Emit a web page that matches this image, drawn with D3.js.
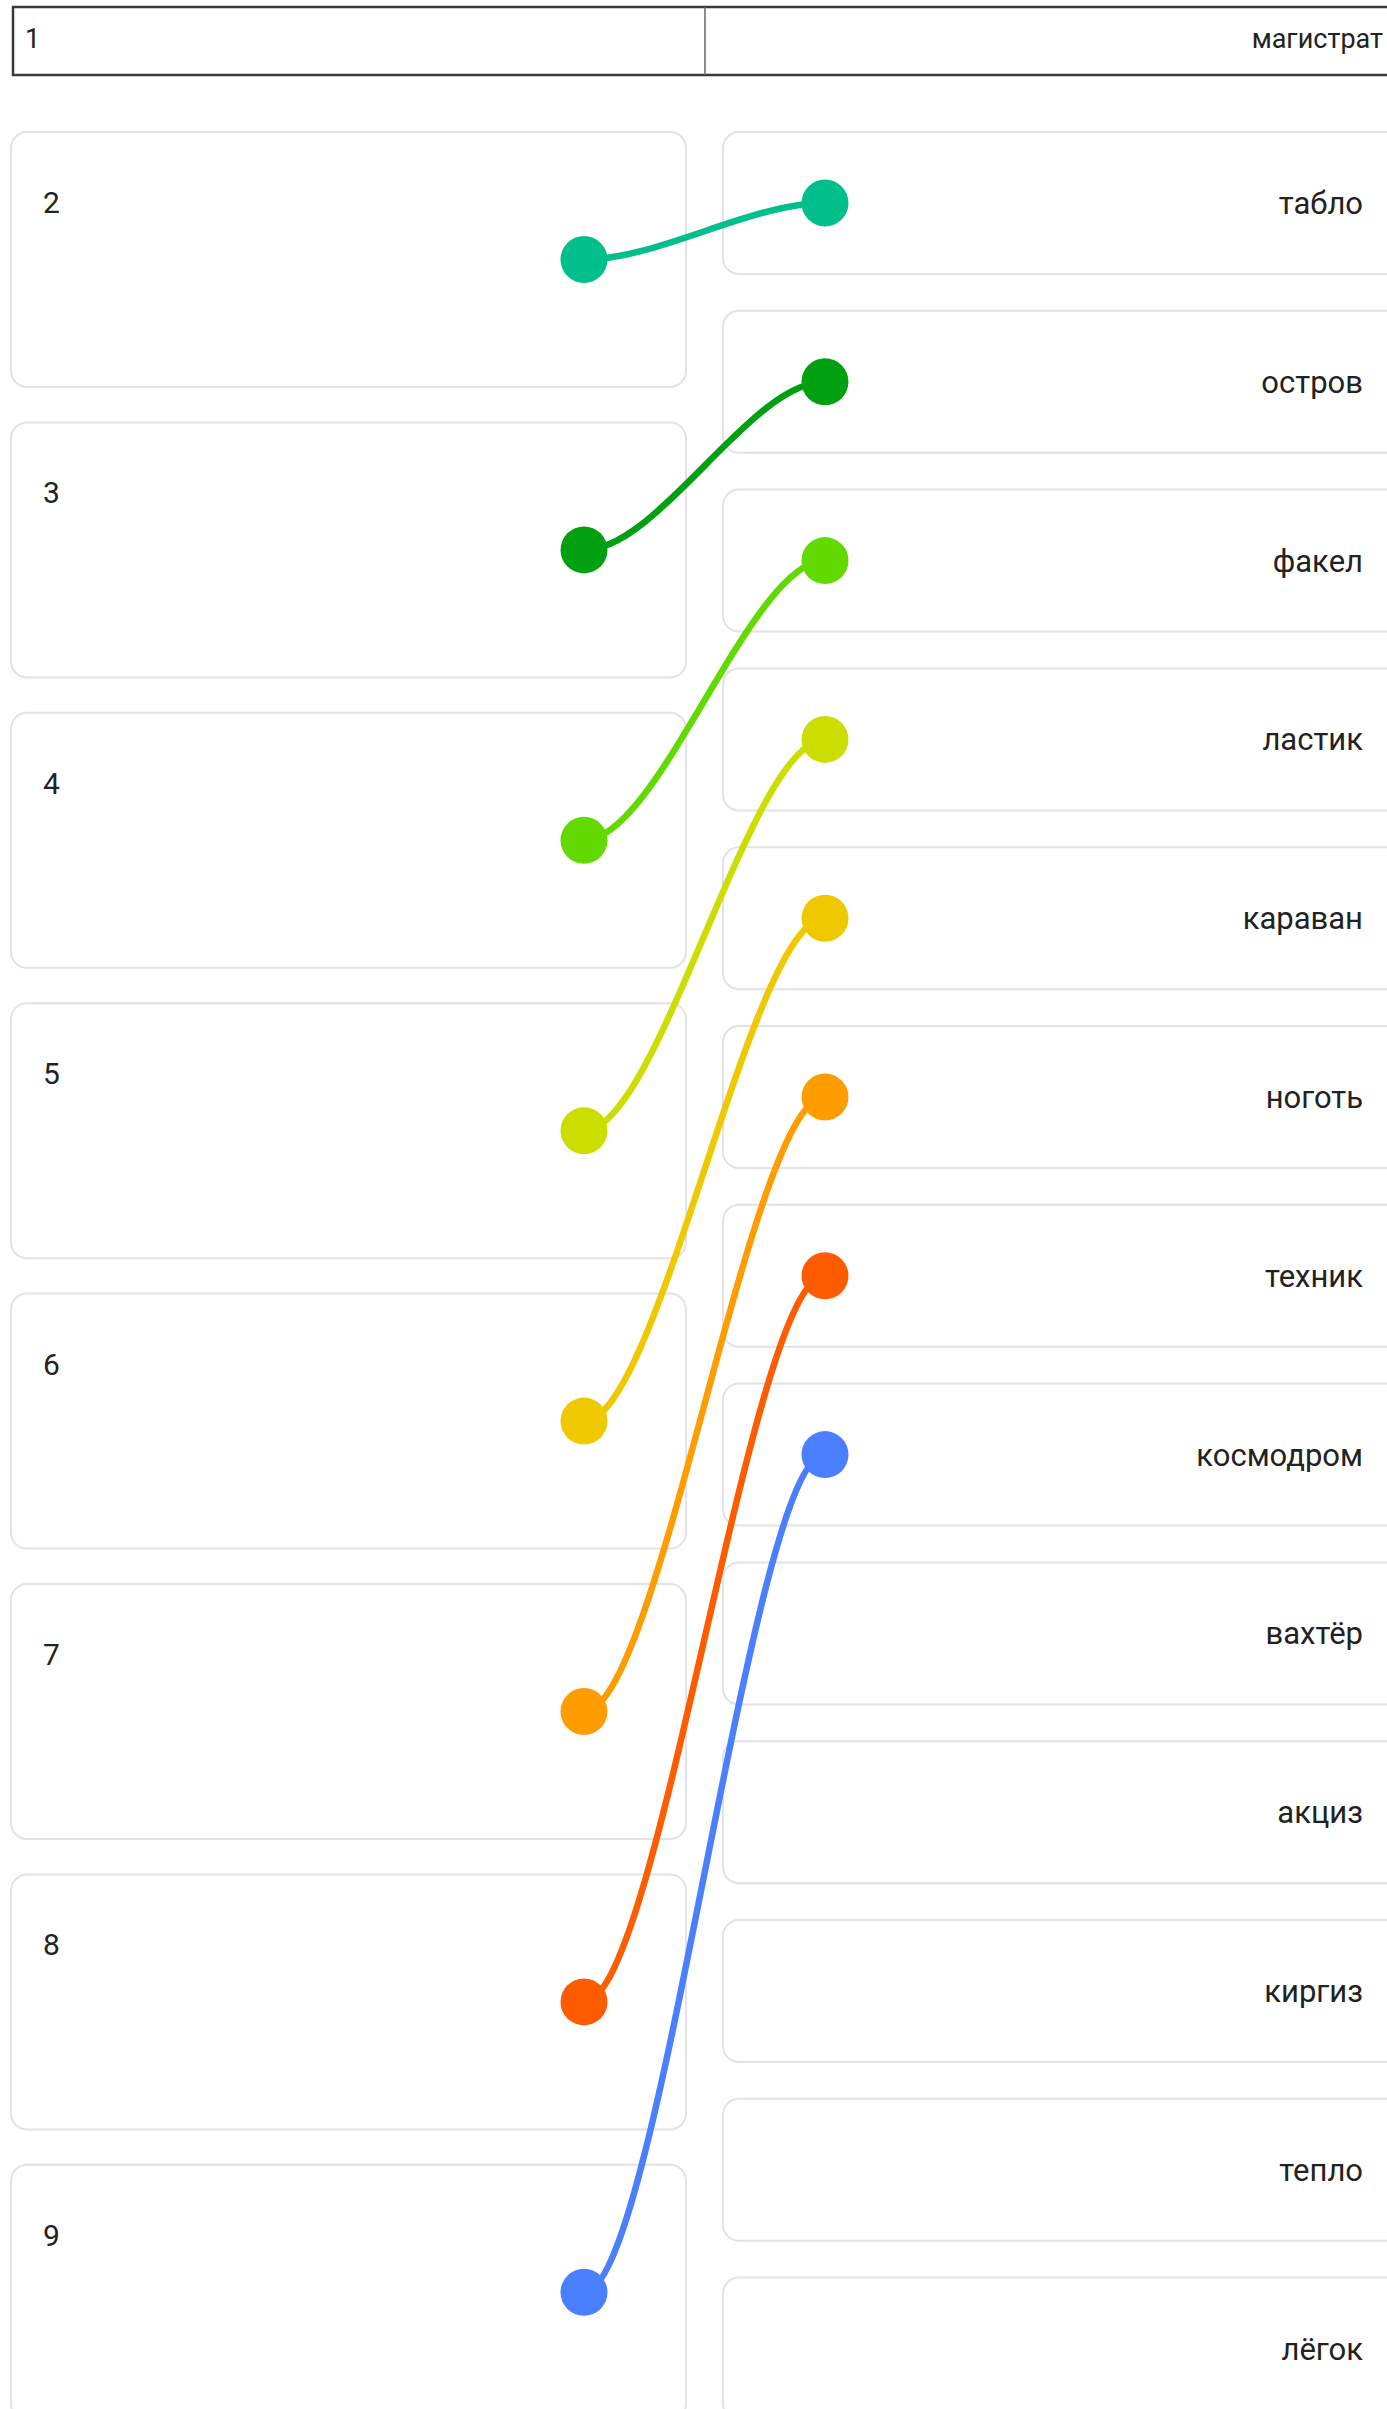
<!DOCTYPE html>
<html>
<head>
<meta charset="utf-8">
<script src="https://cdn.jsdelivr.net/npm/d3@7"></script>
<style>
  html, body { margin: 0; padding: 0; background: #fff; }
  svg { display: block; }
  text { font-family: Roboto, "Noto Sans", sans-serif; fill: #222; }
</style>
</head>
<body>
<svg id="chart" width="1387" height="2409"></svg>
<script>
const headerLeft = "1";
const headerRight = "магистрат";
const leftLabels = ["2", "3", "4", "5", "6", "7", "8", "9"];
const rightLabels = ["табло", "остров", "факел", "ластик", "караван", "ноготь", "техник", "космодром", "вахтёр", "акциз", "киргиз", "тепло", "лёгок"];
const linkPairs = [[0, 0], [1, 1], [2, 2], [3, 3], [4, 4], [5, 5], [6, 6], [7, 7]];
const linkColors = ["#00bf8a", "#00a010", "#62da00", "#ccdd00", "#f0c800", "#ff9c00", "#ff5c00", "#4a7fff"];

const svg = d3.select("#chart");

// layout scales
const leftTop = d3.scaleLinear().domain([0, 1]).range([132, 422.4]);
const rightTop = d3.scaleLinear().domain([0, 1]).range([132, 310.8]);
const leftH = 255, rightH = 142;
const leftX0 = 11, leftX1 = 686;
const rightX0 = 723, rightX1 = 1405;
const leftDotX = 584, rightDotX = 825;

// header
const header = svg.append("g");
header.append("rect")
  .attr("x", 13).attr("y", 7).attr("width", 1400).attr("height", 68)
  .attr("fill", "#fff").attr("stroke", "#3a3a3a").attr("stroke-width", 2.5);
header.append("line")
  .attr("x1", 705).attr("x2", 705).attr("y1", 7).attr("y2", 75)
  .attr("stroke", "#666").attr("stroke-width", 1.5);
header.append("text").attr("x", 25).attr("y", 48)
  .attr("font-size", 27).text(headerLeft);
header.append("text").attr("x", 1383).attr("y", 48)
  .attr("font-size", 27).attr("text-anchor", "end").text(headerRight);

// left cards
const lg = svg.append("g").selectAll("g").data(leftLabels).join("g");
lg.append("rect")
  .attr("x", leftX0).attr("y", (d, i) => leftTop(i))
  .attr("width", leftX1 - leftX0).attr("height", leftH)
  .attr("rx", 16).attr("fill", "#fff")
  .attr("stroke", "#e2e2e8").attr("stroke-width", 2);
lg.append("text")
  .attr("x", 43).attr("y", (d, i) => leftTop(i) + 81)
  .attr("font-size", 30).text(d => d);

// right cards
const rg = svg.append("g").selectAll("g").data(rightLabels).join("g");
rg.append("rect")
  .attr("x", rightX0).attr("y", (d, i) => rightTop(i))
  .attr("width", rightX1 - rightX0).attr("height", rightH)
  .attr("rx", 16).attr("fill", "#fff")
  .attr("stroke", "#e2e2e8").attr("stroke-width", 2);
rg.append("text")
  .attr("x", 1363).attr("y", (d, i) => rightTop(i) + rightH / 2 + 11)
  .attr("font-size", 31).attr("text-anchor", "end").text(d => d);

// links
const linkData = linkPairs.map(([l, r], k) => ({
  source: [leftDotX, leftTop(l) + leftH / 2],
  target: [rightDotX, rightTop(r) + rightH / 2],
  color: linkColors[k]
}));
function linkPath(d) {
  const [x0, y0] = d.source, [x1, y1] = d.target;
  const a = (x1 - x0) * 0.31;
  const p = d3.path();
  p.moveTo(x0, y0);
  p.bezierCurveTo(x0 + a, y0, x1 - a, y1, x1, y1);
  return p.toString();
}
svg.append("g").selectAll("path").data(linkData).join("path")
  .attr("d", linkPath)
  .attr("fill", "none")
  .attr("stroke", d => d.color)
  .attr("stroke-width", 6.5);

const dots = svg.append("g");
dots.selectAll("circle.l").data(linkData).join("circle").attr("class", "l")
  .attr("cx", d => d.source[0]).attr("cy", d => d.source[1]).attr("r", 23.5)
  .attr("fill", d => d.color);
dots.selectAll("circle.r").data(linkData).join("circle").attr("class", "r")
  .attr("cx", d => d.target[0]).attr("cy", d => d.target[1]).attr("r", 23.5)
  .attr("fill", d => d.color);
</script>
</body>
</html>
